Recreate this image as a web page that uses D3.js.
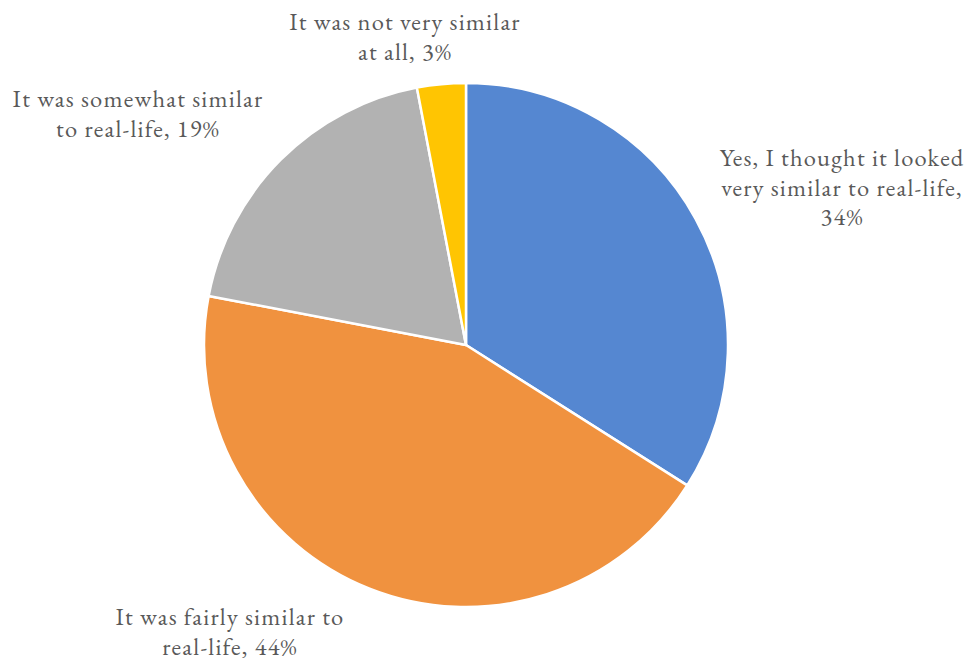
<!DOCTYPE html>
<html>
<head>
<meta charset="utf-8">
<script src="https://cdn.jsdelivr.net/npm/d3@7"></script>
<style>
  html, body { margin: 0; padding: 0; background: #fff; }
  svg { display: block; }
</style>
</head>
<body>
<svg id="chart" width="966" height="662"></svg>
<script>
// Survey responses: how similar the scene looked to real life
const categories = [
  "Yes, I thought it looked very similar to real-life",
  "It was fairly similar to real-life",
  "It was somewhat similar to real-life",
  "It was not very similar at all"
];
const values = [34, 44, 19, 3];
const colors = ["#5587D1", "#F0923F", "#B2B2B2", "#FFC502"];
// Label lines as wrapped on the chart
const labelLines = [
  ["Yes, I thought it looked", "very similar to real-life,", "34%"],
  ["It was fairly similar to", "real-life, 44%"],
  ["It was somewhat similar", "to real-life, 19%"],
  ["It was not very similar", "at all, 3%"]
];

const svg = d3.select("#chart");
const cx = 466, cy = 345, r = 262;

const pie = d3.pie().sort(null).value(d => d)(values);
const arc = d3.arc().innerRadius(0).outerRadius(r);

const g = svg.append("g").attr("transform", `translate(${cx},${cy})`);
g.selectAll("path")
  .data(pie)
  .join("path")
  .attr("d", arc)
  .attr("fill", (d, i) => colors[i])
  .attr("stroke", "#fff")
  .attr("stroke-width", 2.5)
  .attr("stroke-linejoin", "round");

// Label anchor points (centre of first line baseline)
const labelPos = [
  { x: 842, y: 166, lh: 29.5 },
  { x: 230, y: 625, lh: 29.5 },
  { x: 138, y: 107, lh: 29.5 },
  { x: 405, y: 30, lh: 30 }
];

const labels = svg.append("g")
  .attr("font-family", "'EB Garamond', Garamond, 'Liberation Serif', 'DejaVu Serif', serif")
  .attr("font-size", 24.5)
  .attr("letter-spacing", 1.2)
  .attr("fill", "#595959")
  .attr("text-anchor", "middle");

labelLines.forEach((lines, i) => {
  const p = labelPos[i];
  const t = labels.append("text").attr("x", p.x).attr("y", p.y);
  lines.forEach((ln, k) => {
    t.append("tspan").attr("x", p.x).attr("dy", k === 0 ? 0 : p.lh).text(ln);
  });
});
</script>
</body>
</html>
